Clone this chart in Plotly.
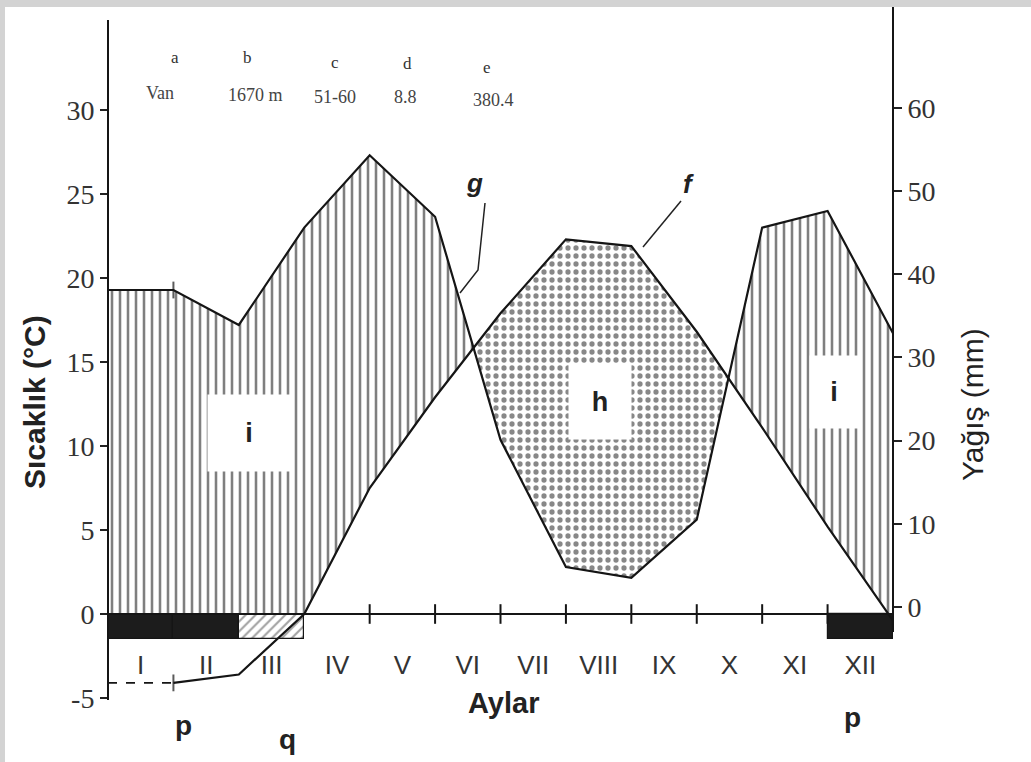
import plotly.graph_objects as go

# ---------------- data ----------------
months = ["I", "II", "III", "IV", "V", "VI", "VII", "VIII", "IX", "X", "XI", "XII"]
temperature = [-4.1, -3.6, 0.0, 7.5, 12.9, 17.9, 22.3, 21.9, 16.8, 11.1, 5.2, -0.4]      # °C
precipitation = [38.1, 33.9, 45.6, 54.3, 46.9, 20.1, 4.8, 3.5, 10.5, 45.6, 47.6, 32.9]  # mm
temp_ticks = [-5, 0, 5, 10, 15, 20, 25, 30]
prec_ticks = [0, 10, 20, 30, 40, 50, 60]
frost_months = [1, 2, 3, 12]
frost_kind = ["absolute", "absolute", "probable", "absolute"]
header_keys = ["a", "b", "c", "d", "e"]
header_vals = ["Van", "1670 m", "51-60", "8.8", "380.4"]

# ---------------- layout geometry (pixels) ----------------
W, H = 1031, 762
PL, PR, PT, PB = 108, 893, 7, 700
T_ZERO_PX, T_PX = 614, 16.8      # left axis: pixel of 0 °C, px per °C
P_ZERO_PX, P_PX = 607, 8.32      # right axis: pixel of 0 mm, px per mm
Y_TOP_PX = 20                    # left axis line top
Y2_BOT_PX = 632                  # right axis line bottom
PH = PB - PT
X_PX = (PR - PL) / 12.0


def t_of_px(py):
    return (T_ZERO_PX - py) / T_PX


def p_of_px(py):
    return (P_ZERO_PX - py) / P_PX


def p_to_t(p):
    return t_of_px(P_ZERO_PX - P_PX * p)


def px_x(px):
    return (px - PL) / X_PX


def px_y(py):
    return t_of_px(py)


def paper_x(px):
    return (px - PL) / (PR - PL)


def paper_y(py):
    return (PB - py) / PH


# ---------------- fill polygons between curves ----------------
xs = list(range(13))
t_ext = [temperature[0]] + temperature
p_ext = [p_to_t(precipitation[0])] + [p_to_t(p) for p in precipitation]

pts = []
for i in range(12):
    x0, x1 = xs[i], xs[i + 1]
    a0, a1 = t_ext[i], t_ext[i + 1]
    b0, b1 = p_ext[i], p_ext[i + 1]
    ts = [0.0]
    d0, d1 = b0 - a0, b1 - a1
    if d0 * d1 < 0:
        ts.append(d0 / (d0 - d1))
    if a0 * a1 < 0:
        ts.append(a0 / (a0 - a1))
    for s in sorted(ts):
        pts.append((x0 + s * (x1 - x0), a0 + s * (a1 - a0), b0 + s * (b1 - b0)))
pts.append((xs[-1], t_ext[-1], p_ext[-1]))

classes = []
for k in range(len(pts) - 1):
    tm = (pts[k][1] + pts[k + 1][1]) / 2
    pm = (pts[k][2] + pts[k + 1][2]) / 2
    if pm > max(tm, 0):
        classes.append("wet")
    elif tm > pm:
        classes.append("dry")
    else:
        classes.append("none")

runs = []
k = 0
while k < len(classes):
    j = k
    while j + 1 < len(classes) and classes[j + 1] == classes[k]:
        j += 1
    runs.append((classes[k], k, j + 1))
    k = j + 1

wet_x, wet_y, dry_x, dry_y = [], [], [], []
for cls, s, e in runs:
    seg = pts[s:e + 1]
    if cls == "wet":
        wet_x += [q[0] for q in seg] + [q[0] for q in reversed(seg)] + [None]
        wet_y += [q[2] for q in seg] + [max(q[1], 0) for q in reversed(seg)] + [None]
    elif cls == "dry":
        dry_x += [q[0] for q in seg] + [q[0] for q in reversed(seg)] + [None]
        dry_y += [q[1] for q in seg] + [q[2] for q in reversed(seg)] + [None]

INK = "#151515"
fig = go.Figure()

fig.add_trace(go.Scatter(
    x=wet_x, y=wet_y, mode="lines", fill="toself", line=dict(width=0),
    fillcolor="white",
    fillpattern=dict(shape="|", fgcolor="#000", bgcolor="white", size=8, solidity=0.32),
    hoverinfo="skip", showlegend=False))
fig.add_trace(go.Scatter(
    x=dry_x, y=dry_y, mode="lines", fill="toself", line=dict(width=0),
    fillcolor="white",
    fillpattern=dict(shape=".", fgcolor="#111", bgcolor="white", size=8, solidity=0.34),
    hoverinfo="skip", showlegend=False))

# frost bars below the zero line
fig.add_trace(go.Bar(
    x=[m - 0.5 for m in frost_months], y=[-1.5] * len(frost_months), base=0, width=1,
    marker=dict(
        color=["#1c1c1c" if k == "absolute" else "white" for k in frost_kind],
        line=dict(color=INK, width=1.2),
        pattern=dict(shape=["" if k == "absolute" else "/" for k in frost_kind],
                     fgcolor="#222", bgcolor="white", size=7, solidity=0.3),
    ),
    hoverinfo="skip", showlegend=False))

# month boundary ticks on zero line
fig.add_trace(go.Scatter(
    x=list(range(4, 12)), y=[0] * 8, mode="markers",
    marker=dict(symbol="line-ns-open", size=14, color=INK, line=dict(color=INK, width=2)),
    hoverinfo="skip", showlegend=False))

# temperature: dashed extension + curve
fig.add_trace(go.Scatter(
    x=[0, 1], y=[temperature[0], temperature[0]], mode="lines",
    line=dict(color=INK, width=1.8, dash="dash"), hoverinfo="skip", showlegend=False))
fig.add_trace(go.Scatter(
    x=list(range(1, 13)), y=temperature, mode="lines+markers",
    line=dict(color=INK, width=2.2),
    marker=dict(symbol="line-ns-open", size=[12] + [0] * 11, color=INK, line=dict(color=INK, width=2)),
    showlegend=False))

# precipitation on right axis
fig.add_trace(go.Scatter(
    x=list(range(0, 13)), y=[precipitation[0]] + precipitation, mode="lines+markers",
    line=dict(color=INK, width=2.2), yaxis="y2",
    marker=dict(symbol="line-ns-open", size=[0, 12] + [0] * 11, color=INK, line=dict(color=INK, width=2)),
    showlegend=False))

SERIF = "Liberation Serif"
SANS = "Liberation Sans"

fig.update_layout(
    width=W, height=H,
    margin=dict(l=PL, r=W - PR, t=PT, b=H - PB),
    paper_bgcolor="white", plot_bgcolor="white",
    bargap=0, showlegend=False,
    xaxis=dict(
        range=[0, 12], anchor="free", position=paper_y(T_ZERO_PX),
        showline=True, linecolor=INK, linewidth=1.6, showgrid=False, zeroline=False,
        tickvals=[m + 0.5 for m in range(12)], ticktext=months,
        ticks="outside", ticklen=28, tickcolor="rgba(0,0,0,0)",
        tickfont=dict(family=SANS, size=26, color="#333"),
    ),
    yaxis=dict(
        range=[t_of_px(PB), t_of_px(Y_TOP_PX)], domain=[0, paper_y(Y_TOP_PX)],
        anchor="free", position=0,
        showline=True, linecolor=INK, linewidth=2, showgrid=False, zeroline=False,
        tickvals=temp_ticks, ticktext=[str(v) for v in temp_ticks],
        ticks="outside", ticklen=7, tickwidth=1.5, tickcolor="#222",
        tickfont=dict(family=SERIF, size=28, color="#333"),
    ),
    yaxis2=dict(
        range=[p_of_px(PB), p_of_px(Y_TOP_PX)],
        overlaying="y", side="right", anchor="x",
        showline=False, showgrid=False, zeroline=False,
        tickvals=prec_ticks, ticktext=[str(v) for v in prec_ticks],
        ticks="outside", ticklen=8, tickwidth=1.5, tickcolor="#222",
        tickfont=dict(family=SERIF, size=28, color="#333"),
    ),
)

ann = []


def label(px, py, text, size, family=SANS, color="#222", angle=0, paper=True, **kw):
    d = dict(text=text, showarrow=False, xanchor="center", yanchor="middle",
             textangle=angle, font=dict(family=family, size=size, color=color))
    if paper:
        d.update(x=paper_x(px), y=paper_y(py), xref="paper", yref="paper")
    else:
        d.update(x=px_x(px), y=px_y(py), xref="x", yref="y")
    d.update(kw)
    ann.append(d)


# header rows
hk_px = [(175, 57), (247, 57), (335, 63), (407, 64), (487, 68)]
hv_px = [(160, 93), (255, 95), (335, 97), (405, 97), (493, 100)]
for (px, py), txt in zip(hk_px, header_keys):
    label(px, py, txt, 17, family=SERIF, color="#333")
for (px, py), txt in zip(hv_px, header_vals):
    label(px, py, txt, 18, family=SERIF, color="#444")

# axis titles and bottom letters
label(34, 402, "<b>Sıcaklık (°C)</b>", 30, angle=-90)
label(972, 405, "Yağış (mm)", 30, angle=-90)
label(503, 703, "<b>Aylar</b>", 29)
for txt, (px, py) in [("p", (183, 725)), ("q", (287, 740)), ("p", (852, 717))]:
    label(px, py, f"<b>{txt}</b>", 28)

# region labels in white boxes
for txt, (px, py), (bw, bh) in [("i", (249, 433), (80, 74)),
                                ("h", (600, 402), (60, 72)),
                                ("i", (834, 392), (46, 70))]:
    label(px, py, f"<b>{txt}</b>", 27, paper=False, bgcolor="white", width=bw, height=bh)
# g and f callouts
label(474, 183, "<b><i>g</i></b>", 26, paper=False)
label(688, 184, "<b><i>f</i></b>", 26, paper=False)

shapes = [
    dict(type="path", xref="x", yref="y",
         path=f"M {px_x(485)},{px_y(203)} L {px_x(478)},{px_y(270)} L {px_x(460)},{px_y(293)}",
         line=dict(color="#222", width=1.5)),
    dict(type="line", xref="x", yref="y", x0=px_x(681), y0=px_y(201), x1=px_x(643), y1=px_y(247),
         line=dict(color="#222", width=1.5)),
    # right axis line (shorter than the plot)
    dict(type="line", xref="paper", yref="paper", x0=1, x1=1,
         y0=paper_y(Y2_BOT_PX), y1=paper_y(PT), line=dict(color=INK, width=2)),
    # scan border
    dict(type="rect", xref="paper", yref="paper", x0=paper_x(0), x1=paper_x(W),
         y0=paper_y(7), y1=paper_y(0), fillcolor="#d3d3d3", line=dict(width=0), layer="above"),
    dict(type="rect", xref="paper", yref="paper", x0=paper_x(0), x1=paper_x(5),
         y0=paper_y(H), y1=paper_y(0), fillcolor="#d3d3d3", line=dict(width=0), layer="above"),
]

fig.update_layout(annotations=ann, shapes=shapes)
fig.write_html("out.html", config={"displayModeBar": False},
               post_script="document.body.style.margin='0';")
